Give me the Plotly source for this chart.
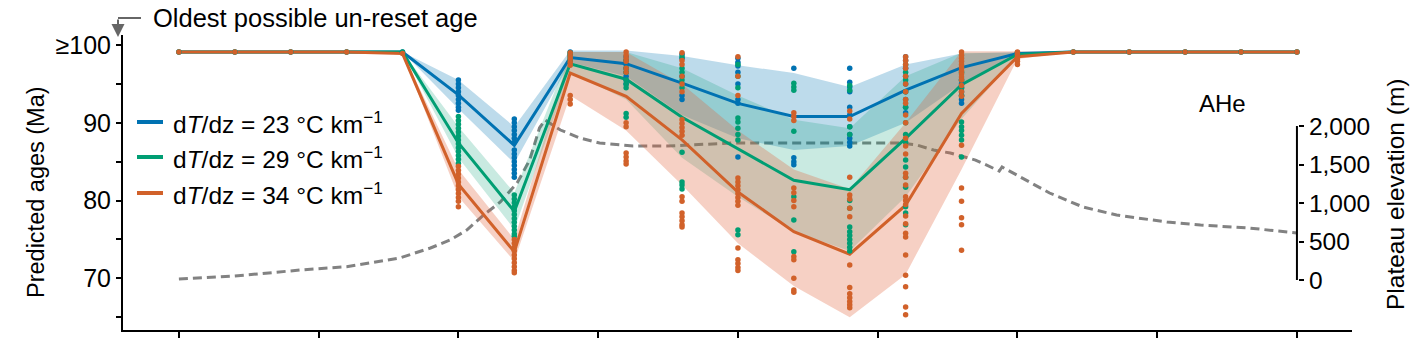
import plotly.graph_objects as go

# ---------------- data ----------------
x_pos = [0.0, 0.4, 0.8, 1.2, 1.6, 2.0, 2.4, 2.8, 3.2, 3.6, 4.0, 4.4, 4.8, 5.2, 5.6, 6.0, 6.4, 6.8, 7.2, 7.6, 8.0]

age_23 = [99.1, 99.1, 99.1, 99.1, 99.1, 93.6, 87.1, 98.4, 97.6, 95.1, 92.5, 90.8, 90.8, 94.2, 97.1, 98.9, 99.1, 99.1, 99.1, 99.1, 99.1]
age_29 = [99.1, 99.1, 99.1, 99.1, 99.1, 87.4, 78.6, 97.6, 95.6, 90.7, 86.7, 82.6, 81.4, 88.0, 94.9, 98.8, 99.1, 99.1, 99.1, 99.1, 99.1]
age_34 = [99.1, 99.1, 99.1, 99.1, 98.9, 82.1, 73.4, 96.4, 93.4, 87.8, 81.1, 76.0, 73.1, 79.4, 91.2, 98.5, 99.1, 99.1, 99.1, 99.1, 99.1]

lo_23 = [99.1, 99.1, 99.1, 99.1, 99.1, 91.8, 84.8, 97.8, 96.0, 91.0, 88.0, 86.5, 87.0, 90.0, 95.0, 98.7, 99.1, 99.1, 99.1, 99.1, 99.1]
hi_23 = [99.1, 99.1, 99.1, 99.1, 99.1, 95.5, 89.5, 99.3, 99.3, 98.6, 97.4, 96.4, 94.6, 97.5, 98.9, 99.1, 99.1, 99.1, 99.1, 99.1, 99.1]
lo_29 = [99.1, 99.1, 99.1, 99.1, 99.1, 85.5, 76.3, 96.5, 93.0, 85.5, 80.5, 76.0, 73.5, 80.5, 90.5, 98.6, 99.1, 99.1, 99.1, 99.1, 99.1]
hi_29 = [99.1, 99.1, 99.1, 99.1, 99.1, 89.5, 81.0, 99.1, 99.1, 97.0, 93.5, 90.4, 89.3, 96.0, 99.0, 99.0, 99.1, 99.1, 99.1, 99.1, 99.1]
lo_34 = [99.1, 99.1, 99.1, 99.1, 98.9, 80.5, 72.2, 93.5, 89.0, 82.0, 74.5, 69.0, 65.0, 70.5, 84.0, 98.2, 99.1, 99.1, 99.1, 99.1, 99.1]
hi_34 = [99.1, 99.1, 99.1, 99.1, 99.0, 84.0, 75.0, 99.1, 99.1, 95.0, 89.0, 84.0, 81.5, 90.0, 99.2, 99.2, 99.1, 99.1, 99.1, 99.1, 99.1]

# individual model ages (column index -> ages)
dots_23 = {
    0: [99.1], 1: [99.1], 2: [99.1], 3: [99.1], 4: [99.1],
    5: [95.5, 95.0, 94.5, 94.0, 93.5, 93.0, 92.5, 92.0, 91.6],
    6: [90.5, 90.0, 89.5, 89.0, 88.5, 88.0, 87.5, 86.5, 86.0, 85.5, 85.0, 84.5, 84.0, 83.5, 83.0],
    7: [99.1, 98.8, 98.5],
    8: [98.5, 98.0, 97.5, 97.0, 96.5, 96.0, 95.5, 95.0],
    9: [98.8, 98.3, 96.0, 93.5, 93.0],
    10: [98.3, 97.8, 97.3, 96.5, 95.0, 93.0, 92.5, 85.6],
    11: [97.0, 85.5, 85.0, 84.6],
    12: [97.0, 95.2, 94.6, 94.0, 92.0, 91.0, 89.5, 88.5, 88.0, 87.5, 87.0],
    13: [98.5, 98.0, 97.0, 96.0, 95.0, 94.0, 93.0, 92.0, 91.3],
    14: [95.5, 95.0, 94.5, 94.0, 93.5, 93.0, 92.5],
    15: [99.0, 98.8], 16: [99.1], 17: [99.1], 18: [99.1], 19: [99.1], 20: [99.1],
}
dots_29 = {
    0: [99.1], 1: [99.1], 2: [99.1], 3: [99.1], 4: [99.1],
    5: [90.8, 90.3, 89.8, 89.3, 88.8, 88.3, 87.8, 87.3, 86.8, 86.3, 85.8, 85.3, 84.8],
    6: [80.7, 80.2, 79.7, 79.2, 78.7, 78.2, 77.7, 77.2, 76.7, 76.2, 75.7, 75.4],
    7: [99.0, 98.7, 98.3, 97.9],
    8: [98.0, 97.0, 96.5, 95.5, 95.0, 94.5, 91.2, 90.7],
    9: [98.5, 97.0, 96.5, 95.5, 94.5, 86.2, 82.4, 82.0, 81.5],
    10: [97.5, 96.0, 94.5, 90.6, 90.1, 89.3, 88.5, 87.8, 76.2, 75.6],
    11: [95.1, 94.6, 94.2, 88.9, 80.5, 77.5, 73.4],
    12: [94.8, 94.2, 89.5, 88.5, 80.0, 79.0, 76.6, 76.0, 75.5, 75.0, 74.5, 74.0, 73.5],
    13: [97.5, 96.5, 95.5, 94.0, 92.0, 90.0, 88.5, 87.5, 85.2, 84.3, 83.0, 81.7, 79.2, 78.4, 76.9],
    14: [96.5, 95.5, 94.5, 93.5, 90.1, 89.5, 89.0, 88.4, 87.8, 85.6],
    15: [99.0, 98.7], 16: [99.1], 17: [99.1], 18: [99.1], 19: [99.1], 20: [99.1],
}
dots_34 = {
    0: [99.1], 1: [99.1], 2: [99.1], 3: [99.1], 4: [98.9],
    5: [84.4, 83.9, 83.4, 82.9, 82.4, 81.9, 81.4, 80.9, 80.4, 79.9, 79.2],
    6: [75.0, 74.5, 74.0, 73.5, 73.0, 72.5, 72.0, 71.5, 71.0, 70.7],
    7: [99.0, 98.6, 98.2, 97.8, 97.4, 93.5, 93.0, 92.4],
    8: [99.1, 98.7, 98.3, 97.9, 97.0, 96.5, 90.0, 89.5, 86.1, 85.6, 85.1, 84.7],
    9: [99.0, 98.0, 97.5, 96.0, 95.0, 94.0, 90.4, 89.9, 89.4, 88.9, 88.4, 80.5, 79.9, 78.4, 77.9, 77.4, 76.9, 76.6],
    10: [98.5, 96.0, 93.5, 82.9, 82.4, 81.9, 81.4, 80.9, 80.4, 79.9, 79.4, 73.9, 72.4, 71.9, 71.4, 71.0],
    11: [91.3, 90.8, 90.3, 81.6, 81.0, 80.0, 79.2, 72.8, 72.4, 70.0, 68.5, 68.2],
    12: [91.5, 90.5, 83.0, 80.7, 80.2, 79.0, 77.9, 71.7, 68.8, 68.0, 67.5, 67.0, 66.6, 66.2],
    13: [98.5, 98.0, 97.5, 97.0, 96.0, 95.0, 94.0, 93.0, 92.5, 91.0, 90.0, 88.0, 87.0, 86.0, 83.5, 83.0,
         82.0, 80.5, 80.0, 79.5, 78.0, 77.0, 75.8, 75.3, 73.0, 70.4, 68.9, 66.3, 65.3],
    14: [99.1, 98.7, 98.3, 97.9, 97.5, 97.1, 96.7, 96.3, 95.9, 95.5, 94.8, 94.0, 93.4, 87.1, 81.6, 79.9, 77.8, 76.9, 73.6],
    15: [99.1, 98.8, 98.5, 98.2, 97.9, 97.5], 16: [99.1], 17: [99.1], 18: [99.1], 19: [99.1], 20: [99.1],
}

elev_x = [0.0, 0.4, 0.87, 1.2, 1.58, 1.8, 1.94, 2.06, 2.18, 2.3, 2.42, 2.51, 2.58, 2.62, 2.73, 2.87, 3.01,
          3.25, 3.49, 3.96, 4.44, 5.16, 5.28, 5.4, 5.52, 5.7, 5.87, 5.89, 6.23, 6.47, 6.71, 7.07, 7.31, 7.66, 8.0]
elev_m = [13, 52, 130, 173, 286, 416, 519, 649, 844, 1013, 1260, 1558, 1974, 2078, 1948, 1844, 1779,
          1740, 1740, 1779, 1779, 1779, 1753, 1688, 1649, 1558, 1416, 1468, 1130, 948, 844, 753, 714, 675, 610]

series_names = ["23", "29", "34"]
line_colors = ["#0072B2", "#009E73", "#D1612A"]
band_colors = ["rgba(0,114,178,0.26)", "rgba(0,158,115,0.21)", "rgba(225,100,60,0.30)"]

x_ticks = [0, 1, 2, 3, 4, 5, 6, 7, 8]
age_ticks = [65, 70, 75, 80, 85, 90, 95, 100]
age_ticktext = ["", "70", "", "80", "", "90", "", "≥100"]
elev_ticks = [0, 500, 1000, 1500, 2000]
elev_ticktext = ["0", "500", "1,000", "1,500", "2,000"]

# ---------------- figure ----------------
FONT = "Liberation Sans, Arial, Helvetica, sans-serif"
W, H = 1411, 349
ML, MR, MT, MB = 123, 59, 35, 19
PW, PH = W - ML - MR, H - MT - MB


def px(xp):
    return (xp - ML) / PW


def py(yp):
    return (H - MB - yp) / PH


fig = go.Figure()

# elevation (base axis 'y', drawn underneath)
fig.add_trace(go.Scatter(x=elev_x, y=elev_m, mode="lines", yaxis="y",
                         line=dict(color="#828282", width=3, dash="9px,5px"),
                         hoverinfo="skip", showlegend=False))

lines = [age_23, age_29, age_34]
los = [lo_23, lo_29, lo_34]
his = [hi_23, hi_29, hi_34]
dots = [dots_23, dots_29, dots_34]

for i in range(3):
    fig.add_trace(go.Scatter(x=x_pos + x_pos[::-1], y=his[i] + los[i][::-1], yaxis="y2",
                             fill="toself", fillcolor=band_colors[i], line=dict(width=0),
                             mode="lines", hoverinfo="skip", showlegend=False))
for i in range(3):
    fig.add_trace(go.Scatter(x=x_pos, y=lines[i], yaxis="y2", mode="lines",
                             line=dict(color=line_colors[i], width=3),
                             showlegend=False))
for i in range(3):
    dx, dy = [], []
    for c, vals in dots[i].items():
        dx += [x_pos[c]] * len(vals)
        dy += vals
    fig.add_trace(go.Scatter(x=dx, y=dy, yaxis="y2", mode="markers",
                             marker=dict(color=line_colors[i], size=5.5, line=dict(width=0)),
                             showlegend=False))

fig.update_layout(
    width=W, height=H,
    margin=dict(l=ML, r=MR, t=MT, b=MB),
    paper_bgcolor="white", plot_bgcolor="white",
    font=dict(family=FONT, size=24, color="black"),
    showlegend=False,
    xaxis=dict(range=[-0.4, 8.394], showgrid=False, zeroline=False, showline=True,
               linecolor="black", linewidth=2, ticks="outside", tickvals=x_ticks,
               ticklen=6, tickwidth=1.5, tickcolor="black", showticklabels=False),
    yaxis=dict(range=[-649, 3182], side="right", anchor="free", position=(1298 - ML) / PW,
               showgrid=False, zeroline=False, showline=False, ticks="outside",
               tickvals=elev_ticks, ticktext=elev_ticktext, ticklen=5, tickwidth=1.5,
               tickcolor="black", tickfont=dict(size=24.5)),
    yaxis2=dict(range=[63.35, 101.29], overlaying="y", side="left", anchor="x",
                showgrid=False, zeroline=False, showline=True, linecolor="black", linewidth=2,
                ticks="outside", tickvals=age_ticks, ticktext=age_ticktext, ticklen=5,
                tickwidth=1.5, tickcolor="black", tickfont=dict(size=25)),
)

# right spine limited to 0-2000 m
fig.add_shape(type="line", xref="x", yref="y", x0=8, x1=8, y0=0, y1=2000,
              line=dict(color="black", width=2))

# legend (manual)
leg_y = [122, 157, 193]
for i in range(3):
    fig.add_shape(type="line", xref="paper", yref="paper", x0=px(137), x1=px(163),
                  y0=py(leg_y[i]), y1=py(leg_y[i]), line=dict(color=line_colors[i], width=4))
    fig.add_annotation(xref="paper", yref="paper", x=px(171), y=py(leg_y[i]),
                       xanchor="left", yanchor="middle", showarrow=False,
                       text="d<i>T</i>/dz = " + series_names[i] + " °C km<sup>−1</sup>",
                       font=dict(size=24.5))

# axis titles
fig.add_annotation(xref="paper", yref="paper", x=px(36), y=py(192), textangle=-90,
                   xanchor="center", yanchor="middle",
                   text="Predicted ages (Ma)", showarrow=False, font=dict(size=23.5))
fig.add_annotation(xref="paper", yref="paper", x=px(1396), y=py(194), textangle=-90,
                   xanchor="center", yanchor="middle",
                   text="Plateau elevation (m)", showarrow=False, font=dict(size=24.5))

# AHe label
fig.add_annotation(xref="paper", yref="paper", x=px(1222), y=py(103), text="AHe",
                   xanchor="center", yanchor="middle",
                   showarrow=False, font=dict(size=24))

# oldest possible un-reset age annotation
fig.add_annotation(xref="paper", yref="paper", x=px(151), y=py(18), xanchor="left",
                   yanchor="middle", text="Oldest possible un-reset age", showarrow=False,
                   font=dict(size=25.5))
fig.add_shape(type="line", xref="paper", yref="paper", x0=px(118), x1=px(141),
              y0=py(18), y1=py(18), line=dict(color="#666666", width=2))
fig.add_annotation(xref="paper", yref="paper", x=px(118), y=py(37), ax=0, ay=-19,
                   text="", showarrow=True, arrowhead=2, arrowsize=1.3, arrowwidth=2,
                   arrowcolor="#666666")

fig.write_html("out.html")
